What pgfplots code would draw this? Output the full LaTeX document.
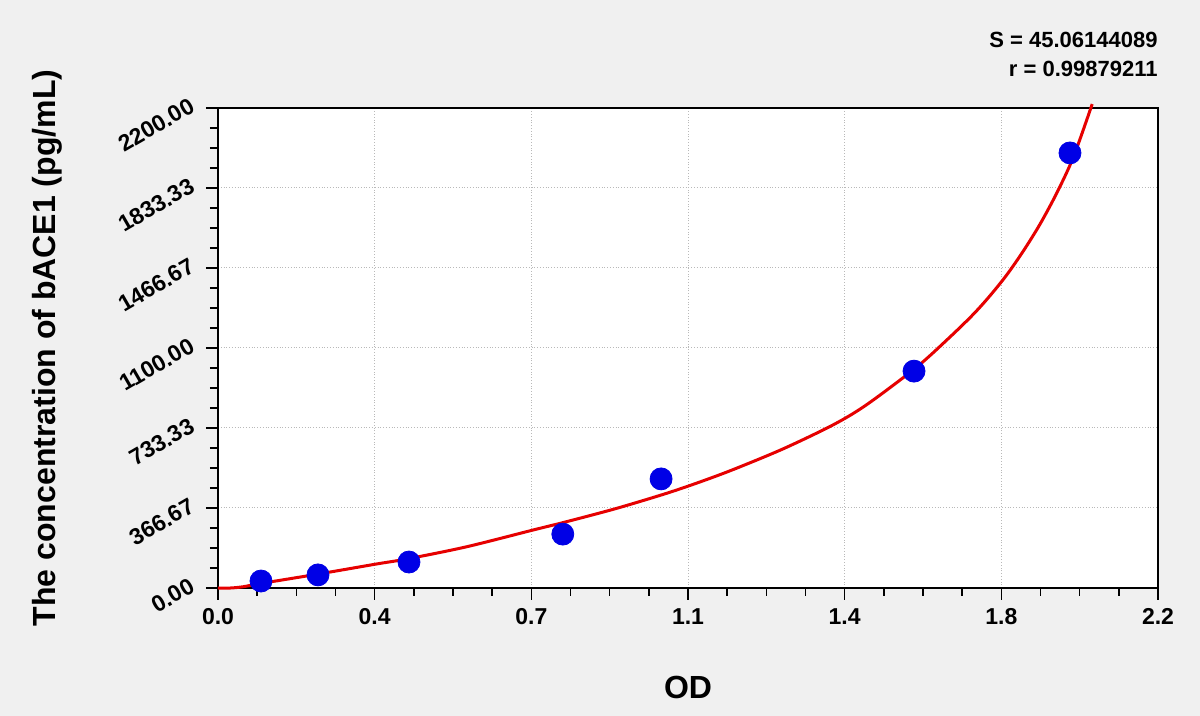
\documentclass[border=0pt]{standalone}
\usepackage{pgfplots}
\pgfplotsset{compat=1.18}
\usepackage{fontspec}
\setmainfont{Liberation Sans}
\usetikzlibrary{backgrounds}
\definecolor{bggray}{RGB}{240,240,240}
\definecolor{ptblue}{RGB}{0,0,230}
\definecolor{curvered}{RGB}{230,0,0}

\pgfplotstableread{
x y
0.1006 32
0.234 60
0.447 119
0.807 247
1.037 500
1.629 994
1.994 1994
}\points

\pgfplotstableread{
x y
0.000 0
0.030 0
0.060 6
0.098 20
0.235 64
0.371 110
0.445 134
0.582 189
0.738 266
0.816 304
0.933 365
1.050 434
1.128 486
1.206 543
1.323 638
1.440 748
1.518 840
1.635 1012
1.713 1150
1.768 1255
1.807 1340
1.846 1435
1.885 1545
1.924 1668
1.963 1810
2.002 1975
2.046 2218
}\curve

\begin{document}
\begin{tikzpicture}
\begin{axis}[
  scale only axis,
  width=470pt, height=240pt,
  xmin=0, xmax=2.2, ymin=0, ymax=2200,
  clip=false,
  axis background/.style={fill=white},
  axis line style={black, line width=0.9pt},
  xtick={0,0.366667,0.733333,1.1,1.466667,1.833333,2.2},
  xticklabels={0.0,0.4,0.7,1.1,1.4,1.8,2.2},
  ytick={0,366.667,733.333,1100,1466.667,1833.333,2200},
  yticklabels={0.00,366.67,733.33,1100.00,1466.67,1833.33,2200.00},
  minor xtick={0.091667,0.183333,0.275,0.458333,0.55,0.641667,0.825,0.916667,1.008333,1.191667,1.283333,1.375,1.558333,1.65,1.741667,1.925,2.016667,2.108333},
  minor ytick={91.667,183.333,275,458.333,550,641.667,825,916.667,1008.333,1191.667,1283.333,1375,1558.333,1650,1741.667,1925,2016.667,2108.333},
  tick align=outside,
  xtick pos=bottom, ytick pos=left,
  major tick length=6pt, minor tick length=4pt,
  every tick/.style={black, line width=0.8pt},
  grid=major,
  major grid style={densely dotted, gray!55, line width=0.5pt},
  minor grid style={draw=none},
  tick label style={font=\bfseries\fontsize{11.5}{13}\selectfont},
  yticklabel style={xshift=-5pt, yshift=3pt, rotate=30, anchor=east, inner sep=2pt},
  xticklabel style={inner sep=2pt, yshift=-2pt},
]
\addplot[curvered, line width=1.5pt, smooth, tension=0.5] table {\curve};
\addplot[only marks, mark=*, mark size=5.5pt, ptblue, mark options={fill=ptblue, draw=ptblue}] table {\points};
\coordinate (ll) at (rel axis cs:0,0);
\coordinate (ur) at (rel axis cs:1,1);
\end{axis}
\node[rotate=90, font=\bfseries\fontsize{16}{19}\selectfont] at ([xshift=-85.5pt,yshift=120pt]ll) {The concentration of bACE1 (pg/mL)};
\node[font=\bfseries\fontsize{16}{19}\selectfont] at ([xshift=235pt,yshift=-49.5pt]ll) {OD};
\node[anchor=base east, inner sep=0pt, font=\bfseries\fontsize{11}{13}\selectfont] at ([yshift=30.2pt]ur) {S = 45.06144089};
\node[anchor=base east, inner sep=0pt, font=\bfseries\fontsize{11}{13}\selectfont] at ([yshift=15.5pt]ur) {r = 0.99879211};
\begin{scope}[on background layer]
\fill[bggray] ([xshift=-109pt,yshift=-64pt]ll) rectangle ([xshift=21pt,yshift=54pt]ur);
\end{scope}
\pgfresetboundingbox
\useasboundingbox ([xshift=-109pt,yshift=-64pt]ll) rectangle ([xshift=21pt,yshift=54pt]ur);
\end{tikzpicture}
\end{document}
